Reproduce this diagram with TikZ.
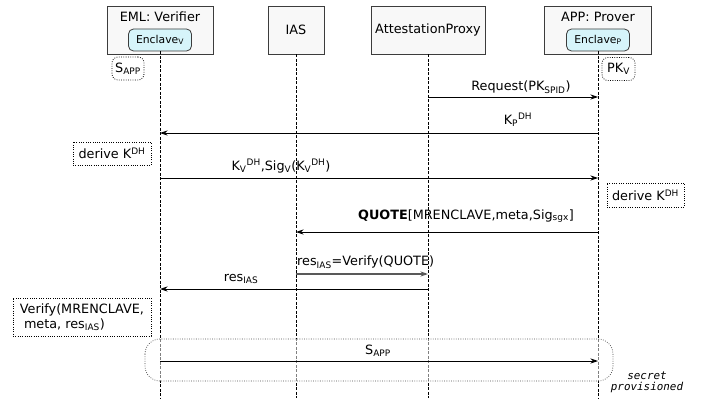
\documentclass[tikz,border=0pt]{standalone}
\usepackage{fontspec}
\setmainfont{DejaVu Sans}
\setmonofont{DejaVu Sans Mono}
\usepackage{tikz}
\usetikzlibrary{arrows.meta}
\usetikzlibrary{positioning}
\tikzset{>={Stealth[length=7.5pt,width=5pt]}}
\definecolor{headfill}{RGB}{248,248,248}
\definecolor{encfill}{RGB}{214,244,250}
\definecolor{edge}{RGB}{60,60,60}

\begin{document}
\begin{tikzpicture}[x=1pt,y=-1pt,
    every node/.style={font=\fontsize{12.8}{15}\selectfont, inner sep=0pt},
    head/.style={draw=edge, fill=headfill, line width=0.8pt, minimum height=48pt},
    enclave/.style={draw=edge, fill=encfill, rounded corners=5pt, line width=0.8pt,
      minimum width=63pt, minimum height=22pt, font=\fontsize{10.8}{12}\selectfont},
    life/.style={line width=0.7pt, dash pattern=on 3pt off 1.5pt},
    msg/.style={->, line width=0.8pt},
    note/.style={draw=black, dash pattern=on 0.8pt off 1.5pt, line width=0.8pt, inner sep=3pt},
    keybox/.style={note, rounded corners=6pt, minimum height=23pt}]

  \useasboundingbox (0,0) rectangle (711,401);

  % participants
  \node[head, minimum width=106pt] (ver) at (160,30) {};
  \node (vertitle) at (160,17) {EML: Verifier};
  \node[enclave] (encv) at (160,40) {Enclave\textsubscript{V}};
  \node[head, minimum width=56pt] (ias) at (296,30) {IAS};
  \node[head, minimum width=114pt] (prx) at (428,30) {AttestationProxy};
  \node[head, minimum width=107pt] (prv) at (598,30) {};
  \node (prvtitle) at (598,17) {APP: Prover};
  \node[enclave] (encp) at (598,40) {Enclave\textsubscript{P}};

  % lifelines
  \coordinate (bot) at (0,398);
  \draw[life] (encv.south) -- (encv.south |- bot);
  \draw[life] (ias.south) -- (ias.south |- bot);
  \draw[life] (prx.south) -- (prx.south |- bot);
  \draw[life] (encp.south) -- (encp.south |- bot);

  % keys held at the start
  \node[keybox, minimum width=32pt] (sapp) at (128,68.5) {S\textsubscript{APP}};
  \node[keybox, minimum width=33pt] (pkv) at (618.5,69) {PK\textsubscript{V}};

  % message rows
  \coordinate (rreq) at (0,97);
  \coordinate (rkp) at (0,133);
  \coordinate (rkv) at (0,178);
  \coordinate (rquote) at (0,232);
  \coordinate (rias) at (0,274);
  \coordinate (rres) at (0,289);
  \coordinate (rsec) at (0,361);

  \draw[msg] (prx |- rreq) -- (prv |- rreq);
  \node (lreq) at (521,87) {Request(PK\textsubscript{SPID})};

  \draw[msg] (prv |- rkp) -- (ver |- rkp);
  \node (lkp) at (518,120) {K\textsubscript{P}\textsuperscript{DH}};

  \node[note, minimum width=78pt, minimum height=23pt] (derv) at (112,153.5) {derive K\textsuperscript{DH}};

  \draw[msg] (ver |- rkv) -- (prv |- rkv);
  \node (lkv) at (281,166) {K\textsubscript{V}\textsuperscript{DH},Sig\textsubscript{V}(K\textsubscript{V}\textsuperscript{DH})};

  \node[note, minimum width=77pt, minimum height=24pt] (derp) at (645.5,195) {derive K\textsuperscript{DH}};

  \draw[msg] (prv |- rquote) -- (ias |- rquote);
  \node (lquote) at (466,216) {\textbf{QUOTE}[MRENCLAVE,meta,Sig\textsubscript{sgx}]};

  \draw[msg, draw=black!65, line width=1.3pt] (ias |- rias) -- (prx |- rias);
  \node[anchor=west] (lias) at (297,262) {res\textsubscript{IAS}=Verify(QUOTE)};

  \draw[msg] (prx |- rres) -- (ver |- rres);
  \node (lres) at (241,279) {res\textsubscript{IAS}};

  \node[note, align=left, minimum width=138pt, minimum height=38pt] (chk) at (82,317)
    {Verify(MRENCLAVE,\\\ meta, res\textsubscript{IAS})};

  % provisioning
  \draw[draw=black!70, dash pattern=on 0.8pt off 1.5pt, line width=0.7pt, fill=white, fill opacity=0.5,
    rounded corners=15pt] (145,339) rectangle (613,381);
  \draw[msg] (ver |- rsec) -- (prv |- rsec);
  \node (lsec) at (378,351) {S\textsubscript{APP}};
  \node[font=\ttfamily\itshape\fontsize{10.9}{11}\selectfont, align=center] (prov)
    at (647,382) {secret\\provisioned};
\end{tikzpicture}
\end{document}
